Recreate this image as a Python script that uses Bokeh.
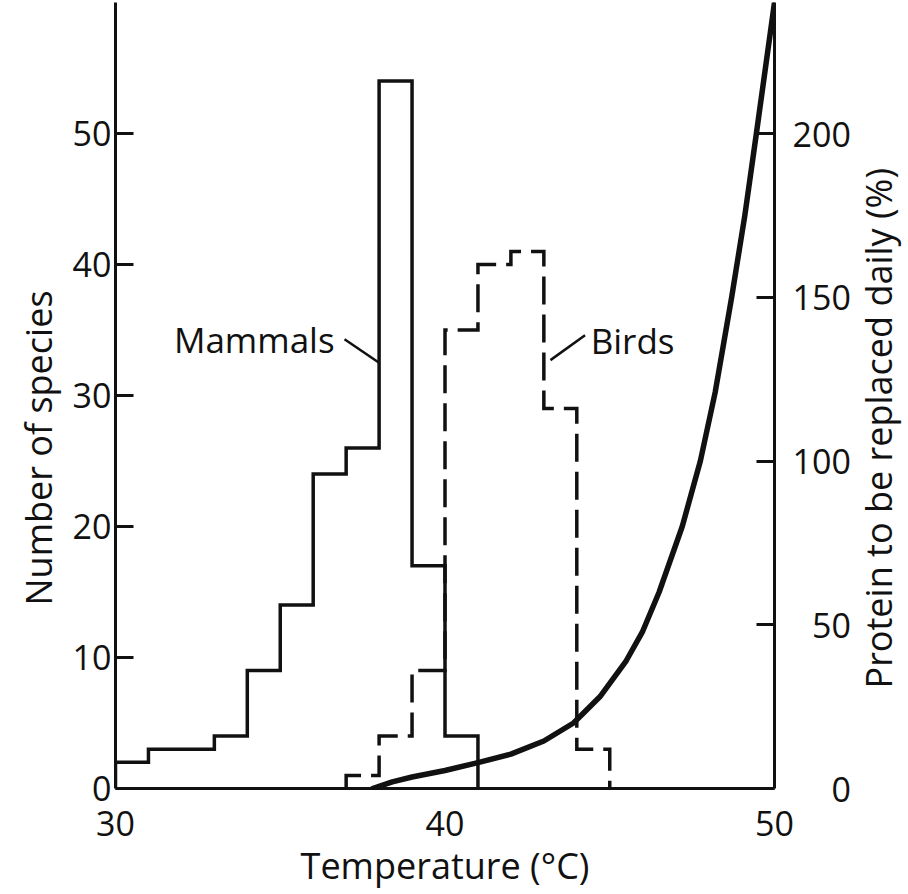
import math
from bokeh.plotting import figure
from bokeh.layouts import row
from bokeh.models import Range1d, LinearAxis, FixedTicker, Title
from bokeh.core.properties import value
from bokeh.embed import file_html
from bokeh.resources import INLINE

# ---- data ----
temp_ticks = [30, 40, 50]
species_ticks = [0, 10, 20, 30, 40, 50]
protein_ticks = [0, 50, 100, 150, 200]

mammal_edges = [30, 31, 32, 33, 34, 35, 36, 37, 38, 39, 40, 41]
mammal_counts = [2, 3, 3, 4, 9, 14, 24, 26, 54, 17, 4]

bird_edges = [37, 38, 39, 40, 41, 42, 43, 44, 45]
bird_counts = [1, 4, 9, 35, 40, 41, 29, 3]

curve_temp = [37.8, 38.4, 39.0, 40.0, 41.0, 42.0, 43.0, 43.9, 44.7, 45.5, 46.0,
              46.5, 47.2, 47.75, 48.2, 48.7, 49.1, 49.45, 50.0]
curve_protein = [0, 2.0, 3.5, 5.5, 7.9, 10.5, 14.5, 20, 28, 39, 48,
                 60, 80, 100, 121, 150, 175, 200, 240]

FONT = "Open Sans"
INK = "#111111"


def outline(edges, counts):
    xs = [edges[0]]
    ys = [0]
    for i, c in enumerate(counts):
        xs += [edges[i], edges[i + 1]]
        ys += [c, c]
    xs.append(edges[-1])
    ys.append(0)
    return xs, ys


p = figure(frame_width=659, frame_height=786,
           x_range=Range1d(30, 50), y_range=Range1d(0, 60),
           output_backend="svg", toolbar_location=None,
           min_border_left=115, min_border_right=76,
           min_border_top=2, min_border_bottom=98,
           background_fill_color="white", border_fill_color="white",
           outline_line_color=None)
p.extra_y_ranges = {"protein": Range1d(0, 240)}
p.xgrid.visible = False
p.ygrid.visible = False

# bottom axis
xa = p.xaxis[0]
xa.ticker = FixedTicker(ticks=temp_ticks)
xa.axis_line_width = 3
xa.axis_line_color = INK
xa.major_tick_line_color = None
xa.minor_tick_line_color = None
xa.major_label_text_font = FONT
xa.major_label_text_font_size = "34px"
xa.major_label_text_color = INK
xa.major_label_standoff = 16

# left axis
ya = p.yaxis[0]
ya.ticker = FixedTicker(ticks=species_ticks)
ya.axis_line_width = 3
ya.axis_line_color = INK
ya.major_tick_in = 18
ya.major_tick_out = 0
ya.major_tick_line_width = 3
ya.major_tick_line_color = INK
ya.minor_tick_line_color = None
ya.major_label_text_font = FONT
ya.major_label_text_font_size = "34px"
ya.major_label_text_color = INK
ya.major_label_standoff = 4

# right axis
ra = LinearAxis(y_range_name="protein", ticker=FixedTicker(ticks=protein_ticks))
ra.axis_line_width = 3
ra.axis_line_color = INK
ra.major_tick_in = 18
ra.major_tick_out = 0
ra.major_tick_line_width = 3
ra.major_tick_line_color = INK
ra.minor_tick_line_color = None
ra.major_label_text_font = FONT
ra.major_label_text_font_size = "34px"
ra.major_label_text_color = INK
ra.major_label_standoff = 18
ra.major_label_overrides = {0: "\u2007\u20070", 50: "\u200750"}
p.add_layout(ra, "right")

# histograms
mx, my = outline(mammal_edges, mammal_counts)
p.line(mx, my, line_width=3.5, line_color=INK, line_join="miter")
bx, by = outline(bird_edges, bird_counts)
p.line(bx, by, line_width=3.5, line_color=INK, line_dash="28 10", line_join="miter")

# protein curve
p.line(curve_temp, curve_protein, y_range_name="protein",
       line_width=5.5, line_color=INK, line_join="round", line_cap="round")

# series labels with leader lines
p.line([36.95, 38.0], [34.3, 32.5], line_width=2.5, line_color=INK)
p.line([43.2, 44.25], [32.7, 34.6], line_width=2.5, line_color=INK)
p.text(x=[36.65], y=[34.27], text=["Mammals"], text_align="right",
       text_baseline="alphabetic", text_font=value(FONT),
       text_font_size="35px", text_color=INK)
p.text(x=[44.42], y=[34.2], text=["Birds"], text_align="left",
       text_baseline="alphabetic", text_font=value(FONT),
       text_font_size="35px", text_color=INK)

# axis titles
p.add_layout(Title(text="Number of species", align="left", offset=183,
                   standoff=14, text_font=FONT, text_font_size="36px",
                   text_font_style="normal", text_color=INK), "left")
p.add_layout(Title(text="Temperature (°C)", align="center",
                   standoff=0, text_font=FONT, text_font_size="36px",
                   text_font_style="normal", text_color=INK), "below")

# narrow side panel carrying the right-hand axis title (reads bottom to top)
p2 = figure(frame_width=50, frame_height=786,
            x_range=Range1d(0, 1), y_range=Range1d(0, 60),
            x_axis_type=None, y_axis_type=None,
            output_backend="svg", toolbar_location=None,
            min_border_left=0, min_border_right=0,
            min_border_top=2, min_border_bottom=98,
            background_fill_color="white", border_fill_color="white",
            outline_line_color=None)
p2.text(x=[0.5], y=[27.5], text=["Protein to be replaced daily (%)"],
        angle=math.pi / 2, text_align="center", text_baseline="middle",
        text_font=value(FONT), text_font_size="36px", text_color=INK)

layout = row(p, p2, spacing=0)
open("out.html", "w").write(file_html(layout, INLINE))
